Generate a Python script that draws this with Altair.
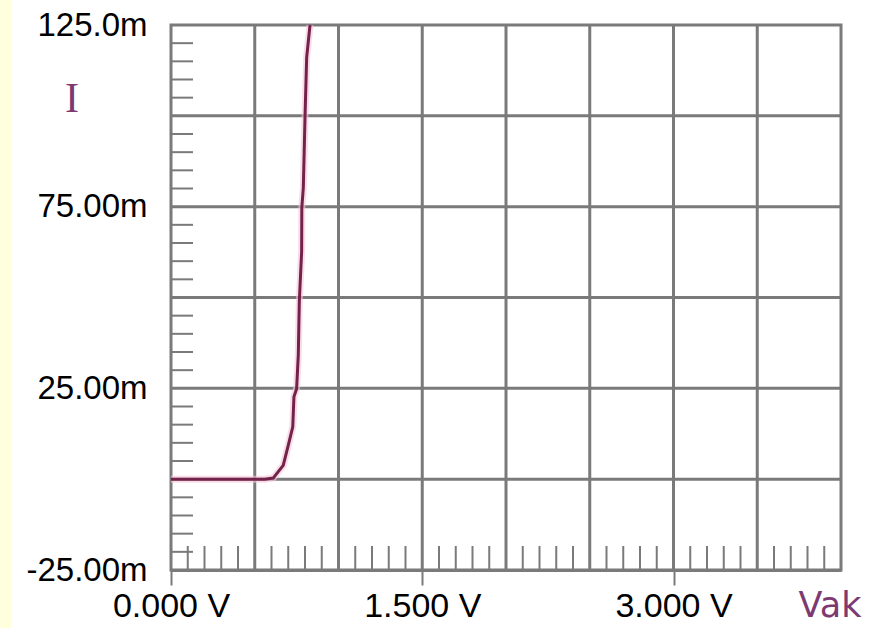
import altair as alt
import pandas as pd

# Diode I-V curve (V in volts, I in mA)
volts = [0.0, 0.30, 0.56, 0.61, 0.67, 0.70, 0.727, 0.734, 0.75, 0.76, 0.766, 0.78, 0.781, 0.79, 0.80, 0.81, 0.83]
current = [0.0, 0.0, 0.0, 0.3, 3.8, 9.3, 14.4, 22.7, 24.9, 34.2, 48.9, 62.7, 74.7, 80.2, 99.5, 116.1, 125.0]

x_label_values = [0.0, 1.5, 3.0]
x_label_texts = ["0.000 V", "1.500 V", "3.000 V"]
y_label_values = [-25, 25, 75, 125]
y_label_texts = ["-25.00m", "25.00m", "75.00m", "125.0m"]

x_grid = [0.5, 1.0, 1.5, 2.0, 2.5, 3.0, 3.5]
y_grid = [0, 25, 50, 75, 100]
x_minor = [round(i * 0.1, 1) for i in range(1, 40) if i % 5 != 0]
y_minor = [v for v in range(-20, 125, 5) if v % 25 != 0]

W, H = 670, 545
GRID = "#7a7a7a"
LINE = "#73224a"
LABEL_PURPLE = "#7d3a72"

xscale = alt.Scale(domain=[0, 4], nice=False, zero=False)
yscale = alt.Scale(domain=[-25, 125], nice=False, zero=False)


def expr_map(values, texts):
    parts = " : ".join(f"datum.value == {v} ? '{t}'" for v, t in zip(values, texts))
    return parts + " : ''"


xaxis = alt.Axis(
    values=x_label_values,
    labelExpr=expr_map(x_label_values, x_label_texts),
    grid=False,
    domainColor=GRID,
    domainWidth=3,
    tickColor=GRID,
    tickWidth=2,
    tickSize=15,
    labelPadding=4,
    labelFont="Liberation Sans",
    labelFontSize=34,
    labelColor="#000000",
    labelFlush=False,
    labelOverlap=False,
)
yaxis = alt.Axis(
    values=y_label_values,
    labelExpr=expr_map(y_label_values, y_label_texts),
    grid=False,
    domain=False,
    ticks=False,
    labelPadding=24,
    labelFont="Liberation Sans",
    labelFontSize=33,
    labelColor="#000000",
    labelFlush=False,
    labelOverlap=False,
)

curve = pd.DataFrame({"V": volts, "I": current, "o": list(range(len(volts)))})
one = pd.DataFrame({"a": [0]})

strip = alt.Chart(one).mark_rect(color="#FFFFDD").encode(
    x=alt.value(-171), x2=alt.value(-160), y=alt.value(-25), y2=alt.value(603)
)

xgrid = alt.Chart(pd.DataFrame({"V": x_grid})).mark_rule(color=GRID, strokeWidth=3).encode(
    x=alt.X("V:Q", scale=xscale, axis=xaxis, title=None)
)
ygrid = alt.Chart(pd.DataFrame({"I": y_grid})).mark_rule(color=GRID, strokeWidth=3).encode(
    y=alt.Y("I:Q", scale=yscale, axis=yaxis, title=None)
)
xminor = alt.Chart(pd.DataFrame({"V": x_minor})).mark_rule(color=GRID, strokeWidth=2).encode(
    x=alt.X("V:Q", scale=xscale, axis=xaxis, title=None), y=alt.value(H), y2=alt.value(H - 24)
)
yminor = alt.Chart(pd.DataFrame({"I": y_minor})).mark_rule(color=GRID, strokeWidth=2).encode(
    y=alt.Y("I:Q", scale=yscale, axis=yaxis, title=None), x=alt.value(0), x2=alt.value(22)
)

halo = alt.Chart(curve).mark_line(color="#f6c4da", strokeWidth=7, opacity=0.6).encode(
    x=alt.X("V:Q", scale=xscale, axis=xaxis, title=None),
    y=alt.Y("I:Q", scale=yscale, axis=yaxis, title=None),
    order="o:Q",
)

line = alt.Chart(curve).mark_line(color=LINE, strokeWidth=3).encode(
    x=alt.X("V:Q", scale=xscale, axis=xaxis, title=None),
    y=alt.Y("I:Q", scale=yscale, axis=yaxis, title=None),
    order="o:Q",
)

i_label = alt.Chart(one).mark_text(
    text="I", font="Liberation Serif", fontSize=42, color=LABEL_PURPLE, align="center", baseline="middle"
).encode(x=alt.value(-99), y=alt.value(74))

vak_label = alt.Chart(one).mark_text(
    text="Vak", font="DejaVu Sans", fontSize=35, color=LABEL_PURPLE, align="center", baseline="middle"
).encode(x=alt.value(659), y=alt.value(581))

chart = alt.layer(
    strip, xgrid, ygrid, xminor, yminor, halo, line, i_label, vak_label
).properties(
    width=W,
    height=H,
    padding={"left": 171, "top": 25, "right": 34, "bottom": 58},
    autosize=alt.AutoSizeParams(type="none"),
    background="#ffffff",
).configure_view(stroke=GRID, strokeWidth=3)

chart.save("out.html", embed_options={"renderer": "svg", "actions": False})
